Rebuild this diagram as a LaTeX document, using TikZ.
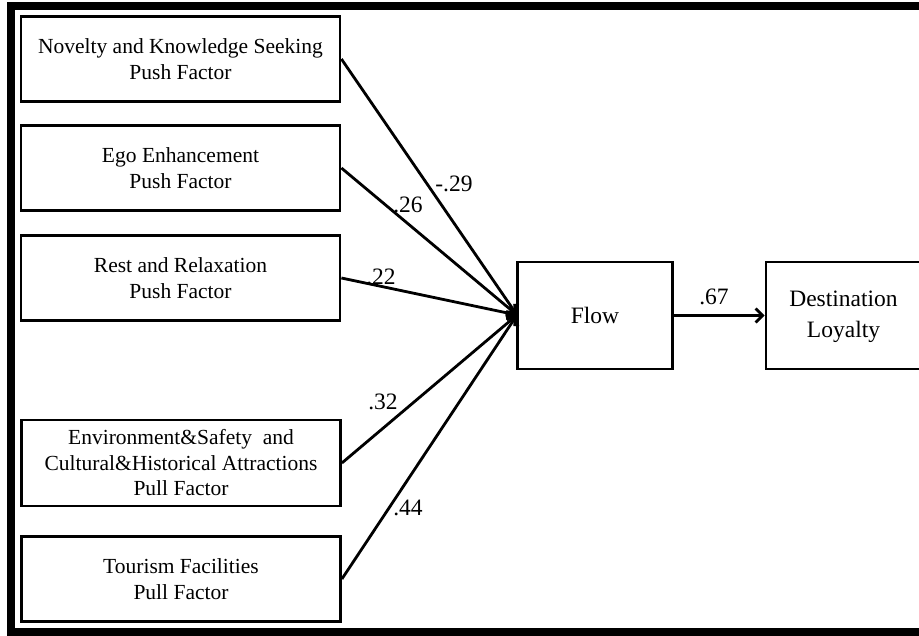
\documentclass[tikz,border=0pt]{standalone}
\usepackage{fontspec}
\setmainfont{Liberation Serif}
\usetikzlibrary{arrows.meta}
\begin{document}
\begin{tikzpicture}[x=1pt,y=-1pt,
  factor/.style={draw,line width=2.8pt,minimum width=319pt,minimum height=85pt,
    inner sep=0pt,align=center,font=\fontsize{21.5}{25.5}\selectfont},
  construct/.style={draw,line width=2.8pt,minimum width=155pt,minimum height=107pt,
    inner sep=0pt,align=center,font=\fontsize{23.5}{31}\selectfont},
  path/.style={line width=2.8pt,-{Straight Barb[length=7pt,width=14pt,line width=2.8pt]}},
  coef/.style={font=\fontsize{23.5}{28}\selectfont,inner sep=0pt}]
\useasboundingbox (0,0) rectangle (919,636);
% frame
\fill (7,2) rectangle (919,10);
\fill (7,2) rectangle (15,636);
\fill (7,628) rectangle (919,636);
% exogenous factors
\node[factor] (nov) at (180.5,59) {Novelty and Knowledge Seeking\\Push Factor};
\node[factor] (ego) at (180.5,168) {Ego Enhancement\\Push Factor};
\node[factor] (rest) at (180.5,278) {Rest and Relaxation\\Push Factor};
\node[factor,minimum height=86pt] (env) at (181,463) {Environment\&Safety\ \ and\\Cultural\&Historical Attractions\\Pull Factor};
\node[factor] (tour) at (181,579) {Tourism Facilities\\Pull Factor};
% endogenous constructs
\node[construct] (flow) at (595,315.5) {\raisebox{-2pt}{Flow}};
\node[construct] (loyal) at (843.5,315.5) {\raisebox{-3pt}{\begin{tabular}{@{}c@{}}Destination\\Loyalty\end{tabular}}};
\coordinate (in) at (517,315);
% paths
\draw[path] (nov.east) -- (in);
\draw[path] (ego.east) -- (in);
\draw[path] (rest.east) -- (in);
\draw[path] (env.east) -- (in);
\draw[path] (tour.east) -- (in);
\draw[path] (flow.east) -- (loyal.west);
% coefficients
\node[coef] at (454,184) {-.29};
\node[coef] at (408,205) {.26};
\node[coef] at (381,277) {.22};
\node[coef] at (383,402) {.32};
\node[coef] at (408,508) {.44};
\node[coef] at (714,297) {.67};
\end{tikzpicture}
\end{document}
